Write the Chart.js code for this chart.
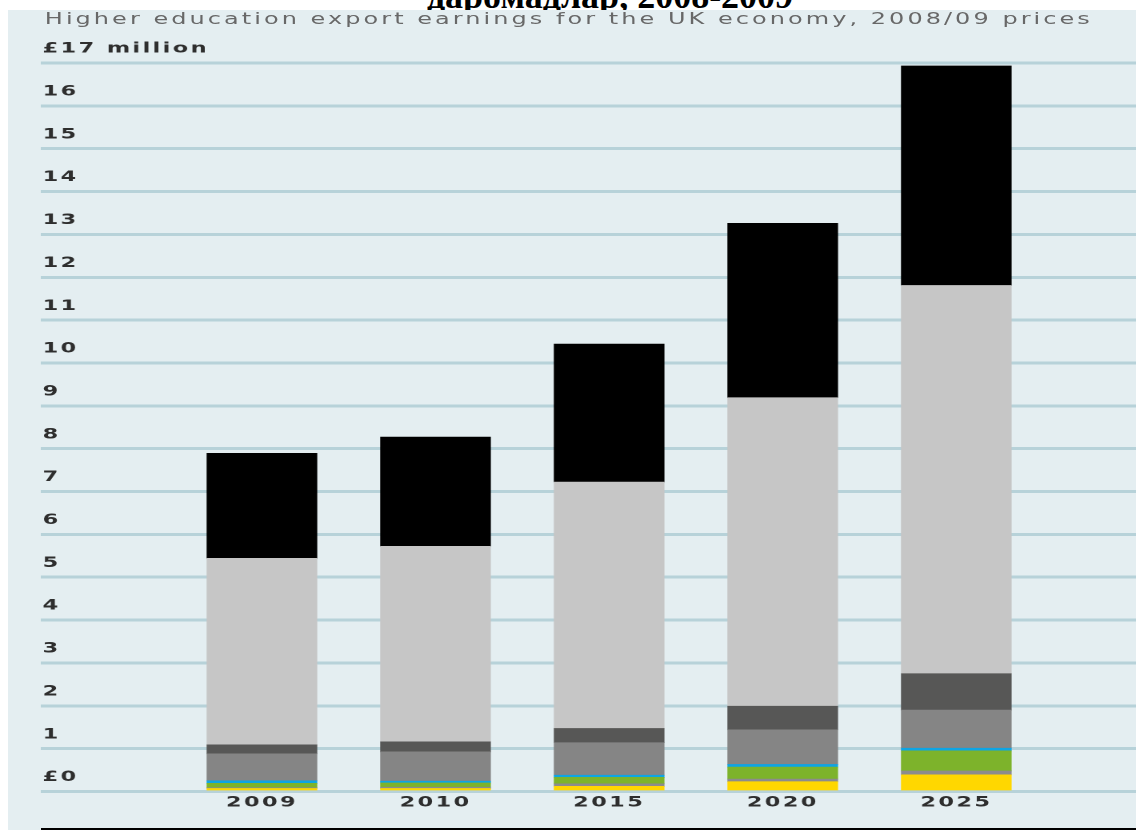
<!DOCTYPE html>
<html>
<head>
<meta charset="utf-8">
<title>Higher education export earnings</title>
<script src="https://cdn.jsdelivr.net/npm/chart.js@4.4.1/dist/chart.umd.min.js"></script>
<style>
  html, body { margin: 0; padding: 0; background: #fff; width: 1136px; height: 830px; overflow: hidden; }
  #cut-title { position: absolute; left: 0; top: -22px; width: 1220px; text-align: center;
    font: bold 36px 'Liberation Serif', serif; line-height: 36px; color: #000; white-space: nowrap; }
  #panel { position: absolute; left: 8px; top: 10px; right: 0; bottom: 0; background: #e4eef1; }
  /* the source picture is stretched sideways, so the whole chart is too */
  #stretch { position: absolute; left: 0; top: 0; width: 710px; height: 830px;
    transform: scaleX(1.6); transform-origin: 0 0; }
  #subtitle { position: absolute; left: 28px; top: 10px; font: 15px 'DejaVu Sans', sans-serif;
    letter-spacing: 1.9px; line-height: 18px; color: #686868; white-space: nowrap; }
  #rule { position: absolute; left: 41px; top: 828px; width: 1095px; height: 2px; background: #000; }
</style>
</head>
<body>
<div id="cut-title">даромадлар, 2008-2009</div>
<div id="panel"></div>
<div id="stretch">
  <div id="subtitle">Higher education export earnings for the UK economy, 2008/09 prices</div>
  <canvas id="chart" width="710" height="830"></canvas>
</div>
<div id="rule"></div>

<script>
// years on the x axis
const years = ['2009', '2010', '2015', '2020', '2025'];

// y axis labels, £ million
const yTickLabels = ['£0', '1', '2', '3', '4', '5', '6', '7', '8', '9', '10',
  '11', '12', '13', '14', '15', '16', '£17 million'];

// stack segments, bottom to top (£ million)
const yellowPart   = [0.07, 0.07, 0.12, 0.23, 0.39];
const thinGreyPart = [0.02, 0.03, 0.06, 0.06, 0.09];
const greenPart    = [0.10, 0.10, 0.15, 0.28, 0.47];
const bluePart     = [0.06, 0.04, 0.05, 0.06, 0.06];
const midGreyPart  = [0.63, 0.685, 0.76, 0.81, 0.89];
const darkGreyPart = [0.21, 0.235, 0.33, 0.55, 0.85];
const lightGreyPart = [4.35, 4.56, 5.75, 7.20, 9.06];
const blackPart    = [2.45, 2.55, 3.22, 4.07, 5.12];

const seriesNames = ['Yellow', 'Thin grey', 'Green', 'Blue', 'Mid grey', 'Dark grey', 'Light grey', 'Black'];
const seriesValues = [yellowPart, thinGreyPart, greenPart, bluePart, midGreyPart, darkGreyPart, lightGreyPart, blackPart];
const seriesColours = ['#ffd700', '#8c8c8c', '#7db32b', '#0ea5e4', '#858585', '#575756', '#c6c6c6', '#000000'];

const datasets = seriesValues.map((vals, k) => ({
  label: seriesNames[k],
  data: vals.map((v, i) => ({ x: i, y: v })),
  backgroundColor: seriesColours[k],
  borderWidth: 0,
  barThickness: 68.5
}));

// wide lettering like the source
const spacing = {
  id: 'spacing',
  beforeDraw(chart) { chart.ctx.letterSpacing = '1.5px'; }
};

const tickFont = { family: 'DejaVu Sans', size: 14, weight: 'bold' };

new Chart(document.getElementById('chart'), {
  type: 'bar',
  data: { datasets: datasets },
  plugins: [spacing],
  options: {
    responsive: false,
    devicePixelRatio: 2,
    animation: false,
    layout: { padding: { left: 25.6, right: 0, top: 63, bottom: 15.7 } },
    plugins: {
      legend: { display: false },
      tooltip: { enabled: false },
      title: { display: false }
    },
    scales: {
      x: {
        type: 'linear',
        stacked: true,
        offset: false,
        min: -1.273,
        max: 5.035,
        afterBuildTicks: (scale) => { scale.ticks = years.map((_, i) => ({ value: i })); },
        grid: { display: false, offset: false, drawTicks: false },
        border: { display: false },
        ticks: {
          callback: (v) => years[v],
          color: '#2e2e2e',
          font: tickFont,
          padding: 3,
          maxRotation: 0,
          autoSkip: false
        }
      },
      y: {
        stacked: true,
        min: 0,
        max: 17,
        afterFit: (scale) => { scale.width = 0; },
        grid: { color: '#b7d2d9', lineWidth: 3, drawTicks: false },
        border: { display: false },
        ticks: {
          stepSize: 1,
          mirror: true,
          padding: 1,
          labelOffset: -14,
          callback: (v) => yTickLabels[v],
          color: '#2e2e2e',
          font: tickFont
        }
      }
    }
  }
});
</script>
</body>
</html>
